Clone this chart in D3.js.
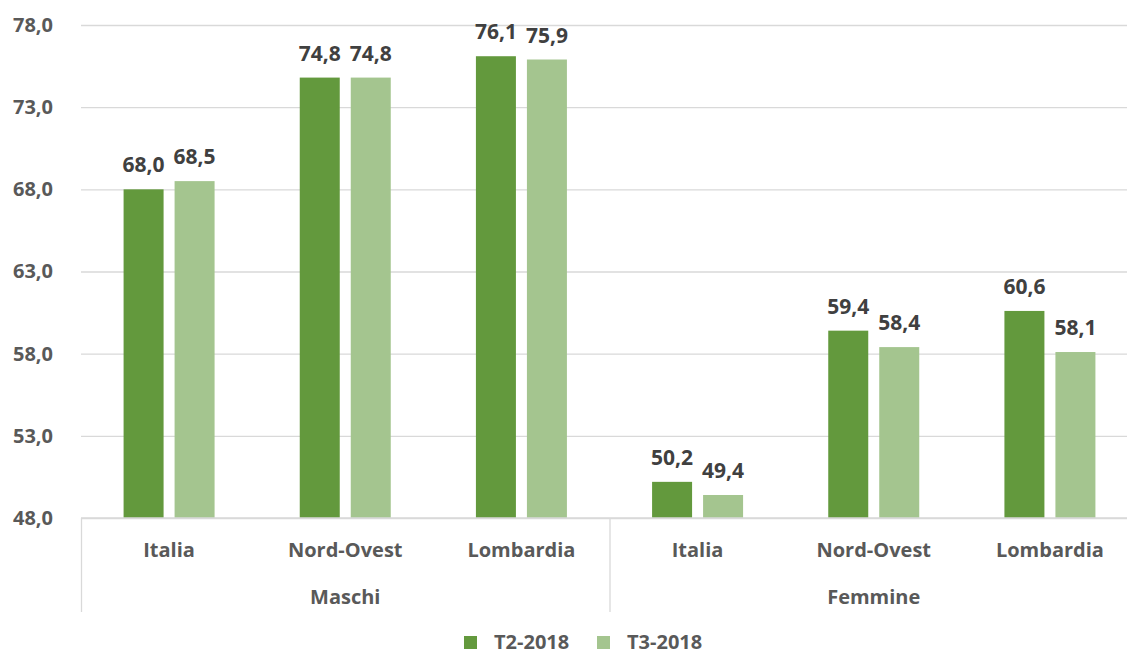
<!DOCTYPE html>
<html>
<head>
<meta charset="utf-8">
<script src="https://cdn.jsdelivr.net/npm/d3@7"></script>
<style>
  body { margin: 0; background: #fff; }
  text { font-family: "Open Sans", sans-serif; font-weight: 700; }
</style>
</head>
<body>
<svg id="chart" width="1127" height="655"></svg>
<script>
// data
const genders = ["Maschi", "Femmine"]
const areas = ["Italia", "Nord-Ovest", "Lombardia"]
const series = ["T2-2018", "T3-2018"]
const t2 = [68.0, 74.8, 76.1, 50.2, 59.4, 60.6]
const t3 = [68.5, 74.8, 75.9, 49.4, 58.4, 58.1]
const yTicks = [48, 53, 58, 63, 68, 73, 78]

const colors = { "T2-2018": "#63993d", "T3-2018": "#a4c58f" }
const fmt = v => d3.format(".1f")(v).replace(".", ",")

let groups = []
genders.forEach((g, gi) => {
    areas.forEach((a, ai) => {
        let i = gi * areas.length + ai
        groups.push({ key: g + "|" + a, gender: g, area: a, values: [
            { s: series[0], v: t2[i] },
            { s: series[1], v: t3[i] }
        ]})
    })
})

const svg = d3.select("#chart")
// plot area runs a little past the right edge, as in the reference
const mLeft = 81, mRight = 1138, mTop = 25, mBottom = 518

let x0 = d3.scaleBand()
            .domain(groups.map(d => d.key))
            .range([mLeft, mRight])
let x1 = d3.scaleBand()
            .domain(series)
            .range([0, x0.bandwidth()])
            .paddingInner(0.2157)
            .paddingOuter(0.835)
let y = d3.scaleLinear()
            .domain([48, 78])
            .range([mBottom, mTop])

// gridlines + y labels
let yAxis = d3.axisLeft(y)
                .tickValues(yTicks)
                .tickSize(-(mRight - mLeft))
                .tickFormat(fmt)
let ya = svg.append("g").attr("transform", `translate(${mLeft},0)`).call(yAxis)
ya.select(".domain").remove()
ya.selectAll("line").attr("stroke", "#d9d9d9").attr("stroke-width", 1.3)
ya.selectAll("text").attr("fill", "#595959").style("font-size", "20px")
    .attr("x", -28)

// bars
let g = svg.selectAll(".grp").data(groups).join("g")
            .attr("transform", d => `translate(${x0(d.key)},0)`)
g.selectAll("rect").data(d => d.values).join("rect")
    .attr("x", d => x1(d.s))
    .attr("width", x1.bandwidth())
    .attr("y", d => y(d.v))
    .attr("height", d => y(48) - y(d.v))
    .attr("fill", d => colors[d.s])
g.selectAll(".lbl").data(d => d.values).join("text")
    .attr("class", "lbl")
    .attr("x", d => x1(d.s) + x1.bandwidth() / 2)
    .attr("y", d => y(d.v) - 17)
    .attr("text-anchor", "middle")
    .attr("fill", "#404040")
    .style("font-size", "21px")
    .text(d => fmt(d.v))

// category axis
const axisColor = "#d9d9d9"
svg.append("line")
    .attr("x1", mLeft).attr("x2", mRight)
    .attr("y1", mBottom).attr("y2", mBottom)
    .attr("stroke", axisColor).attr("stroke-width", 1.3)
svg.selectAll(".sep").data([0, 3]).join("line")
    .attr("x1", i => x0(groups[i].key) + 0.5)
    .attr("x2", i => x0(groups[i].key) + 0.5)
    .attr("y1", mBottom).attr("y2", 612)
    .attr("stroke", axisColor).attr("stroke-width", 1.3)
svg.selectAll(".cat").data(groups).join("text")
    .attr("x", d => x0(d.key) + x0.bandwidth() / 2)
    .attr("y", 550)
    .attr("dy", "0.35em")
    .attr("text-anchor", "middle")
    .attr("fill", "#595959")
    .style("font-size", "20px")
    .text(d => d.area)
svg.selectAll(".gen").data(genders).join("text")
    .attr("x", (d, i) => (x0(groups[i * 3].key) + x0(groups[i * 3 + 2].key) + x0.bandwidth()) / 2)
    .attr("y", 597)
    .attr("dy", "0.35em")
    .attr("text-anchor", "middle")
    .attr("fill", "#595959")
    .style("font-size", "20px")
    .text(d => d)

// legend
const legendX = [464, 597]
let lg = svg.selectAll(".leg").data(series).join("g")
            .attr("transform", (d, i) => `translate(${legendX[i]},636)`)
lg.append("rect").attr("width", 13).attr("height", 13).attr("fill", d => colors[d])
lg.append("text").attr("x", 30).attr("y", 6).attr("dy", "0.35em")
    .attr("fill", "#595959").style("font-size", "20px").text(d => d)
</script>
</body>
</html>
